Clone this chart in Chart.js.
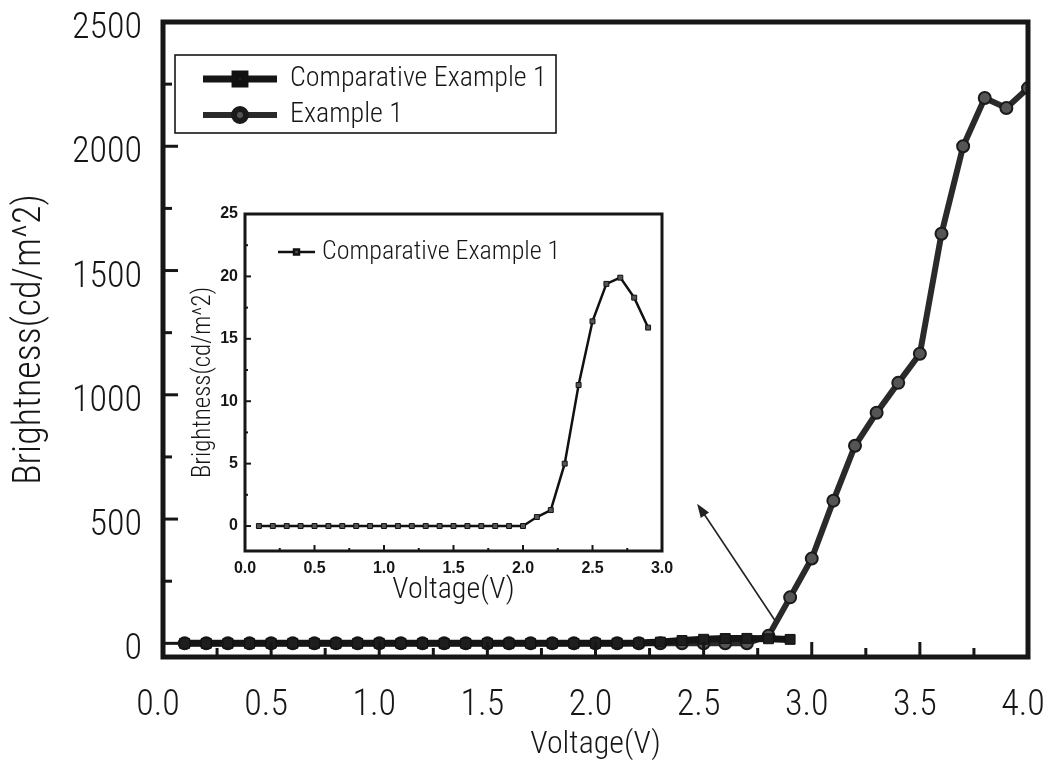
<!DOCTYPE html>
<html><head><meta charset="utf-8">
<script src="https://cdn.jsdelivr.net/npm/chart.js@4.4.0/dist/chart.umd.min.js"></script>
<style>
html,body{margin:0;padding:0;background:#fff;}
#wrap{position:relative;width:1048px;height:767px;overflow:hidden;}
#main{position:absolute;left:0;top:0;}
#inset{position:absolute;left:175px;top:195px;}
</style></head><body>
<div id="wrap"><canvas id="main" width="1048" height="767"></canvas><canvas id="inset" width="505" height="420"></canvas></div>
<script>
// ---------- data ----------
const seriesNames = ['Comparative Example 1', 'Example 1'];
const compVoltage = [0.1,0.2,0.3,0.4,0.5,0.6,0.7,0.8,0.9,1.0,1.1,1.2,1.3,1.4,1.5,1.6,1.7,1.8,1.9,2.0,2.1,2.2,2.3,2.4,2.5,2.6,2.7,2.8,2.9];
const compBrightness = [0,0,0,0,0,0,0,0,0,0,0,0,0,0,0,0,0,0,0,0,0.72,1.28,5.0,11.3,16.4,19.4,19.9,18.3,15.9];
const ex1Voltage = [0.1,0.2,0.3,0.4,0.5,0.6,0.7,0.8,0.9,1.0,1.1,1.2,1.3,1.4,1.5,1.6,1.7,1.8,1.9,2.0,2.1,2.2,2.3,2.4,2.5,2.6,2.7,2.8,2.9,3.0,3.1,3.2,3.3,3.4,3.5,3.6,3.7,3.8,3.9,4.0];
const ex1Brightness = [0,0,0,0,0,0,0,0,0,0,0,0,0,0,0,0,0,0,0,0,0,0,0,0,0,0,0,30,185,341,574,795,928,1048,1165,1648,2000,2194,2154,2234];
const mainXTicks = [0.0,0.5,1.0,1.5,2.0,2.5,3.0,3.5,4.0];
const mainYTicks = [0,500,1000,1500,2000,2500];
const insetXTicks = [0.0,0.5,1.0,1.5,2.0,2.5,3.0];
const insetYTicks = [0,5,10,15,20,25];
const xTitle = 'Voltage(V)';
const yTitle = 'Brightness(cd/m^2)';
// arrow annotation in main-chart data units (tail near the low-voltage data, head toward the inset)
const arrowTail = {x:2.83, y:92};
const arrowHead = {x:2.47, y:562};

// ---------- styling ----------
const F = "'Roboto Condensed','Liberation Sans',Arial,sans-serif";
const FB = "'Liberation Sans',Arial,sans-serif";
const W = '300';
const INK = '#161616';

function toPts(xs, ys){ return xs.map((v,i)=>({x:v, y:ys[i]})); }

function frameTicks(o){
  return {
    id:'frameTicks',
    afterDatasetsDraw(chart){
      const {ctx, chartArea:a, scales:{x, y}} = chart;
      ctx.save();
      ctx.strokeStyle = INK;
      ctx.lineWidth = o.tickWidth;
      const eps = 1e-6;
      for (let k = Math.ceil(x.min/o.xMinor - eps); k*o.xMinor <= x.max + eps; k++){
        const v = k*o.xMinor;
        const major = Math.abs(v/o.xMajor - Math.round(v/o.xMajor)) < eps;
        const px = x.getPixelForValue(v);
        ctx.beginPath(); ctx.moveTo(px, a.bottom); ctx.lineTo(px, a.bottom - (major?o.majorLen:o.minorLen)); ctx.stroke();
      }
      for (let k = Math.ceil(y.min/o.yMinor - eps); k*o.yMinor <= y.max + eps; k++){
        const v = k*o.yMinor;
        const major = Math.abs(v/o.yMajor - Math.round(v/o.yMajor)) < eps;
        const py = y.getPixelForValue(v);
        ctx.beginPath(); ctx.moveTo(a.left, py); ctx.lineTo(a.left + (major?o.majorLen:o.minorLen), py); ctx.stroke();
      }
      ctx.lineWidth = o.frameWidth;
      ctx.strokeRect(a.left, a.top, a.right - a.left, a.bottom - a.top);
      ctx.restore();
    }
  };
}

function boxLegend(c){
  return {
    id:'boxLegend',
    afterDraw(chart){
      const {ctx, chartArea:a} = chart;
      const left = a.left + c.dx, top = a.top + c.dy;
      ctx.save();
      if (c.box){
        ctx.fillStyle = '#fff'; ctx.fillRect(left, top, c.w, c.h);
        ctx.strokeStyle = INK; ctx.lineWidth = 1.6; ctx.strokeRect(left, top, c.w, c.h);
      }
      chart.data.datasets.forEach((d, i) => {
        const yy = top + c.firstRow + i*c.rowGap;
        const x0 = left + c.lineStart, x1 = x0 + c.lineLen;
        ctx.strokeStyle = d.borderColor; ctx.lineWidth = d.borderWidth;
        ctx.beginPath(); ctx.moveTo(x0, yy); ctx.lineTo(x1, yy); ctx.stroke();
        ctx.fillStyle = d.pointBackgroundColor; ctx.strokeStyle = d.pointBorderColor;
        Chart.helpers.drawPoint(ctx, {pointStyle:d.pointStyle, radius:d.pointRadius, borderWidth:d.pointBorderWidth, rotation:0}, (x0+x1)/2, yy);
        ctx.fillStyle = INK; ctx.font = c.font; ctx.textBaseline = 'middle'; ctx.textAlign = 'left';
        ctx.fillText(d.label, x1 + c.textGap, yy);
      });
      ctx.restore();
    }
  };
}

const arrowPlugin = {
  id:'arrow',
  afterDatasetsDraw(chart){
    const {ctx, scales:{x, y}} = chart;
    const x0 = x.getPixelForValue(arrowTail.x), y0 = y.getPixelForValue(arrowTail.y);
    const x1 = x.getPixelForValue(arrowHead.x), y1 = y.getPixelForValue(arrowHead.y);
    const ang = Math.atan2(y1 - y0, x1 - x0);
    ctx.save();
    ctx.strokeStyle = '#222'; ctx.fillStyle = '#222'; ctx.lineWidth = 1.6;
    ctx.beginPath(); ctx.moveTo(x0, y0); ctx.lineTo(x1 - 8*Math.cos(ang), y1 - 8*Math.sin(ang)); ctx.stroke();
    ctx.beginPath();
    ctx.moveTo(x1, y1);
    ctx.lineTo(x1 - 14*Math.cos(ang) + 5*Math.sin(ang), y1 - 14*Math.sin(ang) - 5*Math.cos(ang));
    ctx.lineTo(x1 - 14*Math.cos(ang) - 5*Math.sin(ang), y1 - 14*Math.sin(ang) + 5*Math.cos(ang));
    ctx.closePath(); ctx.fill();
    ctx.restore();
  }
};

function fitX(h){ return s => { s.height = h; s.paddingLeft = 0; s.paddingRight = 0; }; }
function fitY(w){ return s => { s.width = w; s.paddingTop = 0; s.paddingBottom = 0; }; }

// ---------- main chart ----------
new Chart(document.getElementById('main'), {
  type:'line',
  data:{
    datasets:[
      {label:seriesNames[0], data:toPts(compVoltage, compBrightness), borderColor:'#151515', borderWidth:7,
       pointStyle:'rect', pointRadius:7, pointBackgroundColor:'#1e1e1e', pointBorderColor:'#111', pointBorderWidth:1, tension:0},
      {label:seriesNames[1], data:toPts(ex1Voltage, ex1Brightness), borderColor:'#2a2a2a', borderWidth:6,
       pointStyle:'circle', pointRadius:6, pointBackgroundColor:'#555', pointBorderColor:'#1a1a1a', pointBorderWidth:2, tension:0}
    ]
  },
  options:{
    responsive:false, animation:false, devicePixelRatio:1,
    layout:{padding:{top:22, right:20, left:0, bottom:0}},
    plugins:{legend:{display:false}, tooltip:{enabled:false}},
    scales:{
      x:{type:'linear', min:0, max:4,
        afterBuildTicks:s=>{ s.ticks = mainXTicks.map(v=>({value:v})); },
        afterFit:fitX(110),
        grid:{display:false, drawTicks:false}, border:{display:false},
        ticks:{font:{family:F, size:36, weight:W}, color:INK, padding:27, labelOffset:-5, maxRotation:0, autoSkip:false, callback:v=>Number(v).toFixed(1)},
        title:{display:true, text:xTitle, font:{family:F, size:32, weight:W}, color:INK, padding:{top:0, bottom:3}}
      },
      y:{type:'linear', min:-55, max:2500,
        afterBuildTicks:s=>{ s.ticks = mainYTicks.map(v=>({value:v})); },
        afterFit:fitY(163),
        grid:{display:false, drawTicks:false}, border:{display:false},
        ticks:{font:{family:F, size:36, weight:W}, color:INK, padding:21, labelOffset:7, callback:v=>String(v)},
        title:{display:true, text:yTitle, font:{family:F, size:38, weight:W}, color:INK, padding:{top:8, bottom:0}}
      }
    }
  },
  plugins:[frameTicks({frameWidth:5, tickWidth:3, majorLen:15, minorLen:9, xMajor:0.5, xMinor:0.25, yMajor:500, yMinor:250}),
           arrowPlugin,
           boxLegend({box:true, dx:12, dy:33, w:381, h:78, firstRow:24, rowGap:36, lineStart:28, lineLen:74, textGap:13, font:`${W} 28px ${F}`})]
});

// ---------- inset chart ----------
new Chart(document.getElementById('inset'), {
  type:'line',
  data:{
    datasets:[
      {label:seriesNames[0], data:toPts(compVoltage, compBrightness), borderColor:'#111', borderWidth:2.5,
       pointStyle:'rect', pointRadius:3.5, pointBackgroundColor:'#555', pointBorderColor:'#111', pointBorderWidth:1, tension:0}
    ]
  },
  options:{
    responsive:false, animation:false, devicePixelRatio:1,
    layout:{padding:{top:19, right:18, left:0, bottom:0}},
    plugins:{legend:{display:false}, tooltip:{enabled:false}},
    scales:{
      x:{type:'linear', min:0, max:3,
        afterBuildTicks:s=>{ s.ticks = insetXTicks.map(v=>({value:v})); },
        afterFit:fitX(64),
        grid:{display:false, drawTicks:false}, border:{display:false},
        ticks:{font:{family:FB, size:16, weight:'bold'}, color:INK, padding:8, maxRotation:0, autoSkip:false, callback:v=>Number(v).toFixed(1)},
        title:{display:true, text:xTitle, font:{family:F, size:30, weight:W}, color:INK, padding:{top:0, bottom:7}}
      },
      y:{type:'linear', min:-2, max:25,
        afterBuildTicks:s=>{ s.ticks = insetYTicks.map(v=>({value:v})); },
        afterFit:fitY(70),
        grid:{display:false, drawTicks:false}, border:{display:false},
        ticks:{font:{family:FB, size:16, weight:'bold'}, color:INK, padding:7, callback:v=>String(v)},
        title:{display:true, text:yTitle, font:{family:F, size:25, weight:W}, color:INK, padding:{top:14, bottom:0}}
      }
    }
  },
  plugins:[frameTicks({frameWidth:3, tickWidth:2, majorLen:6, minorLen:3, xMajor:0.5, xMinor:0.25, yMajor:5, yMinor:2.5}),
           boxLegend({box:false, dx:33, dy:38, w:0, h:0, firstRow:0, rowGap:0, lineStart:0, lineLen:37, textGap:7, font:`${W} 26px ${F}`})]
});
</script>
</body></html>
